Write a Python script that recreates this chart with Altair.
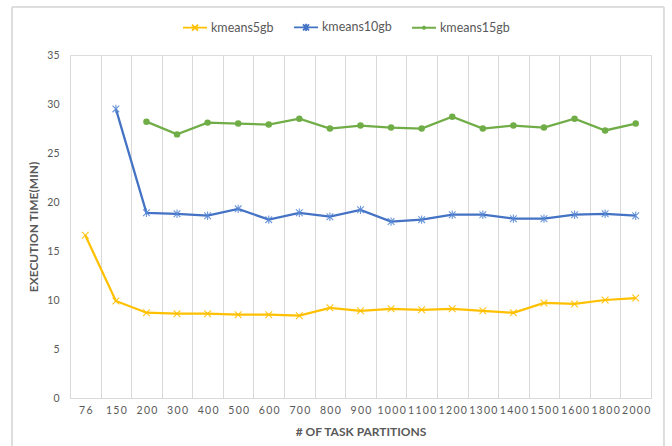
import altair as alt
import pandas as pd

# Task-partition counts on the category axis
partitions = ["76", "150", "200", "300", "400", "500", "600", "700", "800", "900",
              "1000", "1100", "1200", "1300", "1400", "1500", "1600", "1800", "2000"]

# Execution time in minutes for each dataset size (None = not run)
kmeans5gb = [16.6, 9.9, 8.7, 8.6, 8.6, 8.5, 8.5, 8.4, 9.2, 8.9,
             9.1, 9.0, 9.1, 8.9, 8.7, 9.7, 9.6, 10.0, 10.2]
kmeans10gb = [None, 29.5, 18.9, 18.8, 18.6, 19.3, 18.2, 18.9, 18.5, 19.2,
              18.0, 18.2, 18.7, 18.7, 18.3, 18.3, 18.7, 18.8, 18.6]
kmeans15gb = [None, None, 28.2, 26.9, 28.1, 28.0, 27.9, 28.5, 27.5, 27.8,
              27.6, 27.5, 28.7, 27.5, 27.8, 27.6, 28.5, 27.3, 28.0]

series_names = ["kmeans5gb", "kmeans10gb", "kmeans15gb"]
series_colors = ["#FFC000", "#4472C4", "#70AD47"]
y_ticks = [0, 5, 10, 15, 20, 25, 30, 35]

rows = []
for name, values in zip(series_names, [kmeans5gb, kmeans10gb, kmeans15gb]):
    for p, v in zip(partitions, values):
        if v is not None:
            rows.append({"Partitions": p, "series": name, "time": v})
df = pd.DataFrame(rows)
legend_df = pd.DataFrame({"series": series_names})

W, H = 581, 343
FONT = "Lato"
TXT = "#595959"
GRID = "#D9D9D9"

x_enc = alt.X(
    "Partitions:N", sort=partitions, title="# OF TASK PARTITIONS",
    scale=alt.Scale(paddingInner=0, paddingOuter=0),
    axis=alt.Axis(
        tickBand="extent", grid=True, gridColor=GRID, gridWidth=1,
        ticks=False, tickSize=0, domainColor=GRID, domainWidth=1,
        labelAngle=0, labelPadding=7,
        labelFont=FONT, labelFontSize=10.5, labelColor=TXT,
        labelExpr="join(split(datum.label, ''), '\u2009')",
        titleFont=FONT, titleFontSize=12, titleFontWeight="bold",
        titleColor=TXT, titlePadding=11,
    ),
)
y_enc = alt.Y(
    "time:Q", title="EXECUTION TIME(MIN)",
    scale=alt.Scale(domain=[0, 35], nice=False),
    axis=alt.Axis(
        values=y_ticks, grid=False, domain=False, ticks=False, tickSize=0,
        labelPadding=11, labelFont=FONT, labelFontSize=10.5, labelColor=TXT,
        titleFont=FONT, titleFontSize=12, titleFontWeight="bold",
        titleColor=TXT, titlePadding=6,
    ),
)

base = alt.Chart(df).encode(x=x_enc, y=y_enc)

# One line + marker layer per series
x_marker = "M-1,-1L1,1M-1,1L1,-1"
star_marker = "M-1,-1L1,1M-1,1L1,-1M0,-1.25L0,1.25"
marker_styles = [
    dict(shape=x_marker, size=45, filled=False, stroke="#FFC000", strokeWidth=1.1, opacity=0.9),
    dict(shape=star_marker, size=45, filled=False, stroke="#5B8BD6", strokeWidth=1.1, opacity=0.9),
    dict(shape="circle", size=42, filled=True, fill="#70AD47", opacity=1),
]
series_layers = []
for name, color, style in zip(series_names, series_colors, marker_styles):
    sub = base.transform_filter(alt.datum.series == name)
    series_layers.append(sub.mark_line(strokeWidth=2.25, color=color))
    series_layers.append(sub.mark_point(**style))

# Legend symbols: line segment with the series marker on it
dot = "M-0.1,-0.04L-0.04,-0.1L0.04,-0.1L0.1,-0.04L0.1,0.04L0.04,0.1L-0.04,0.1L-0.1,0.04Z"
legend_shapes = [
    "M-1,0L1,0M-0.25,-0.25L0.25,0.25M-0.25,0.25L0.25,-0.25",
    "M-1,0L1,0M-0.25,-0.25L0.25,0.25M-0.25,0.25L0.25,-0.25M0,-0.3L0,0.3",
    "M-1,0L1,0" + dot,
]
legend_layer = alt.Chart(legend_df).mark_point(filled=False, opacity=0).encode(
    x=alt.value(0), y=alt.value(0),
    color=alt.Color("series:N", scale=alt.Scale(domain=series_names, range=series_colors),
                    legend=alt.Legend(
                        title=None, orient="none", direction="horizontal",
                        legendX=112, legendY=-41, padding=0,
                        symbolSize=576, symbolStrokeWidth=1.8, symbolOpacity=1,
                        labelFont=FONT, labelFontSize=12.5, labelColor=TXT,
                        labelOffset=3, columnPadding=16, labelLimit=200)),
    shape=alt.Shape("series:N", scale=alt.Scale(domain=series_names, range=legend_shapes)),
)

# Chart-area border
border = alt.Chart(legend_df).mark_rect(fill="transparent", stroke=GRID, strokeWidth=1).encode(
    x=alt.value(-58), x2=alt.value(594), y=alt.value(-48), y2=alt.value(420))

chart = alt.layer(border, *series_layers, legend_layer).properties(
    width=W, height=H,
    autosize=alt.AutoSizeParams(type="none"),
    padding={"left": 70, "top": 55, "right": 21, "bottom": 48},
).configure_view(stroke=None).configure(background="white")

chart.save("out.html", embed_options={"renderer": "svg", "actions": False})
